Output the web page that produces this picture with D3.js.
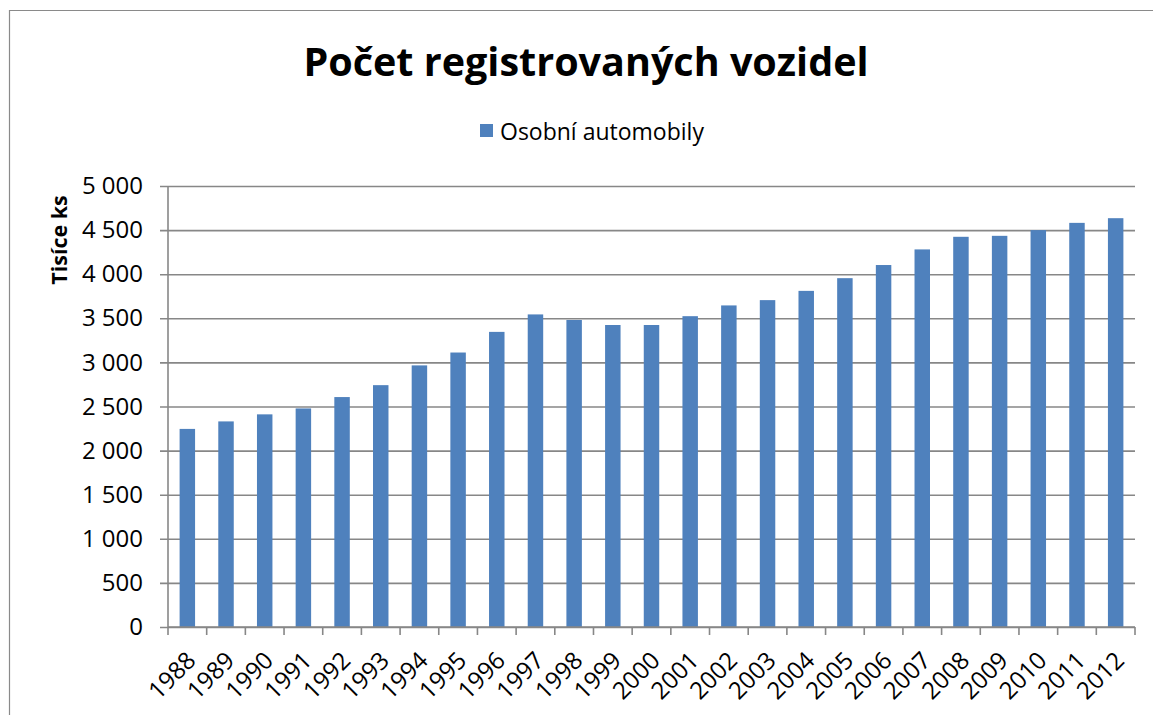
<!DOCTYPE html>
<html>
<head>
<meta charset="utf-8">
<script src="https://cdn.jsdelivr.net/npm/d3@7"></script>
<style>
  html, body { margin: 0; padding: 0; background: #fff; }
  svg { display: block; font-family: "Open Sans", sans-serif; }
</style>
</head>
<body>
<div id="chart"></div>
<script>
const title = "Počet registrovaných vozidel";
const seriesName = "Osobní automobily";
const yTitle = "Tisíce ks";
const years = ["1988", "1989", "1990", "1991", "1992", "1993", "1994", "1995", "1996", "1997",
  "1998", "1999", "2000", "2001", "2002", "2003", "2004", "2005", "2006", "2007",
  "2008", "2009", "2010", "2011", "2012"];
const cars = [2246, 2331, 2411, 2478, 2607, 2742, 2966, 3112, 3346, 3544,
  3481, 3424, 3424, 3524, 3646, 3706, 3811, 3955, 4104, 4281,
  4424, 4435, 4500, 4582, 4635];
const yTicks = [0, 500, 1000, 1500, 2000, 2500, 3000, 3500, 4000, 4500, 5000];

const width = 1153, height = 715;
const margin = { top: 186, right: 18, bottom: 88, left: 168 };

const svg = d3.select("#chart").append("svg")
  .attr("width", width).attr("height", height);

// outer chart border (only top and left are visible in the frame)
svg.append("path")
  .attr("d", `M9.5,${height + 5}V10.5H${width + 5}`)
  .attr("fill", "none").attr("stroke", "#8a8a8a").attr("stroke-width", 1.2);

const x = d3.scaleBand()
  .domain(years)
  .range([margin.left, width - margin.right])
  .paddingInner(0.6)
  .paddingOuter(0.3);

const y = d3.scaleLinear()
  .domain([0, 5000])
  .range([height - margin.bottom, margin.top]);

const fmt = (d) => d3.format(",")(d).replace(/,/g, " ");

// gridlines + y axis
const gy = svg.append("g")
  .attr("transform", `translate(${margin.left},0)`)
  .call(d3.axisLeft(y)
    .tickValues(yTicks)
    .tickFormat(fmt)
    .tickSize(-(width - margin.left - margin.right))
    .tickPadding(25));
gy.select(".domain").remove();
gy.selectAll(".tick line")
  .attr("stroke", "#878787").attr("stroke-width", 1.6)
  .attr("x1", -8);
gy.selectAll(".tick text")
  .attr("fill", "#000").attr("font-size", 24)
  .attr("font-family", "Open Sans, sans-serif");

// bars
svg.append("g")
  .selectAll("rect")
  .data(cars)
  .join("rect")
  .attr("x", (d, i) => x(years[i]))
  .attr("y", (d) => y(d))
  .attr("width", x.bandwidth())
  .attr("height", (d) => y(0) - y(d))
  .attr("fill", "#4f81bd");

// y axis line
svg.append("line")
  .attr("x1", margin.left).attr("x2", margin.left)
  .attr("y1", y(5000)).attr("y2", y(0))
  .attr("stroke", "#878787").attr("stroke-width", 1.6);

// x axis with ticks at band boundaries
const step = x.step();
const x0 = margin.left;
const gx = svg.append("g").attr("transform", `translate(0,${y(0)})`);
gx.append("line")
  .attr("x1", x0).attr("x2", width - margin.right)
  .attr("stroke", "#878787").attr("stroke-width", 1.6);
gx.selectAll(".tickmark")
  .data(d3.range(years.length + 1))
  .join("line")
  .attr("class", "tickmark")
  .attr("x1", (i) => x0 + i * step).attr("x2", (i) => x0 + i * step)
  .attr("y1", 0).attr("y2", 8)
  .attr("stroke", "#878787").attr("stroke-width", 1.6);
gx.selectAll(".label")
  .data(years)
  .join("text")
  .attr("class", "label")
  .attr("transform", (d) => `translate(${x(d) + x.bandwidth() / 2 + 4},${29}) rotate(-45)`)
  .attr("text-anchor", "end")
  .attr("dy", "0.35em")
  .attr("font-size", 24)
  .attr("fill", "#000")
  .text((d) => d);

// title
svg.append("text")
  .attr("x", 586).attr("y", 76)
  .attr("text-anchor", "middle")
  .attr("font-size", 39.5).attr("font-weight", "bold")
  .text(title);

// legend
svg.append("rect")
  .attr("x", 480).attr("y", 124).attr("width", 13).attr("height", 13)
  .attr("fill", "#4f81bd");
svg.append("text")
  .attr("x", 500).attr("y", 140)
  .attr("font-size", 23)
  .text(seriesName);

// y title
svg.append("text")
  .attr("transform", "translate(67,240) rotate(-90)")
  .attr("text-anchor", "middle")
  .attr("font-size", 21.5).attr("font-weight", "bold")
  .text(yTitle);
</script>
</body>
</html>
